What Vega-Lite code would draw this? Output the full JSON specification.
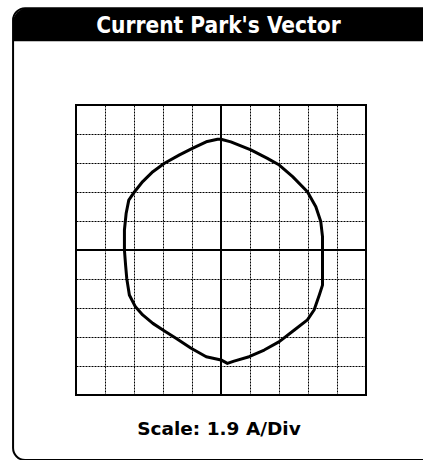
{
  "$schema": "https://vega.github.io/schema/vega-lite/v6.json",
  "width": 290,
  "height": 290,
  "autosize": {"type": "none"},
  "padding": {"left": 76, "top": 105, "right": 57, "bottom": 65},
  "background": "white",
  "config": {
    "view": {"stroke": "black", "strokeWidth": 2},
    "axis": {
      "grid": true, "gridColor": "black", "gridDash": [2, 1], "gridWidth": 1, "gridOpacity": 1,
      "domain": false, "ticks": false, "labels": false, "title": null
    }
  },
  "layer": [
    {
      "data": {"values": [{"x": -7.17, "x2": 7.6, "y": 8.34, "y2": -7.24}]},
      "mark": {"type": "rect", "fill": null, "stroke": "black", "strokeWidth": 2, "cornerRadius": 12, "clip": false},
      "encoding": {
        "x": {"field": "x", "type": "quantitative", "title": null, "scale": {"domain": [-5, 5], "nice": false, "zero": false}, "axis": {"values": [-4, -3, -2, -1, 1, 2, 3, 4], "grid": true, "gridDash": [2, 1], "gridColor": "black", "domain": false, "ticks": false, "labels": false, "title": null}},
        "x2": {"field": "x2"},
        "y": {"field": "y", "type": "quantitative", "title": null, "scale": {"domain": [-5, 5], "nice": false, "zero": false}, "axis": {"values": [-4, -3, -2, -1, 1, 2, 3, 4], "grid": true, "gridDash": [2, 1], "gridColor": "black", "domain": false, "ticks": false, "labels": false, "title": null}},
        "y2": {"field": "y2"}
      }
    },
    {
      "data": {"values": [{"x": -7.17, "x2": 7.6, "y": 8.34, "y2": 7.2}]},
      "mark": {"type": "rect", "fill": "black", "cornerRadiusTopLeft": 14, "cornerRadiusTopRight": 14, "clip": false},
      "encoding": {
        "x": {"field": "x", "type": "quantitative", "title": null},
        "x2": {"field": "x2"},
        "y": {"field": "y", "type": "quantitative", "title": null},
        "y2": {"field": "y2"}
      }
    },
    {
      "data": {"values": [
        {"x": 0, "x2": 0, "y": -5, "y2": 5},
        {"x": -5, "x2": 5, "y": 0, "y2": 0}
      ]},
      "mark": {"type": "rule", "color": "black", "strokeWidth": 2},
      "encoding": {
        "x": {"field": "x", "type": "quantitative", "title": null},
        "x2": {"field": "x2"},
        "y": {"field": "y", "type": "quantitative", "title": null},
        "y2": {"field": "y2"}
      }
    },
    {
      "data": {"values": [
        {"i": 1, "x": 0, "y": 3.82},
        {"i": 2, "x": 0.34, "y": 3.73},
        {"i": 3, "x": 1.03, "y": 3.45},
        {"i": 4, "x": 1.6, "y": 3.16},
        {"i": 5, "x": 2.01, "y": 2.93},
        {"i": 6, "x": 2.47, "y": 2.53},
        {"i": 7, "x": 2.98, "y": 2.01},
        {"i": 8, "x": 3.27, "y": 1.49},
        {"i": 9, "x": 3.44, "y": 0.98},
        {"i": 10, "x": 3.5, "y": 0.46},
        {"i": 11, "x": 3.5, "y": 0},
        {"i": 12, "x": 3.5, "y": -0.52},
        {"i": 13, "x": 3.5, "y": -1.21},
        {"i": 14, "x": 3.39, "y": -1.55},
        {"i": 15, "x": 3.21, "y": -2.07},
        {"i": 16, "x": 2.98, "y": -2.41},
        {"i": 17, "x": 2.53, "y": -2.76},
        {"i": 18, "x": 2.01, "y": -3.16},
        {"i": 19, "x": 1.49, "y": -3.45},
        {"i": 20, "x": 0.97, "y": -3.68},
        {"i": 21, "x": 0.45, "y": -3.83},
        {"i": 22, "x": 0.22, "y": -3.91},
        {"i": 23, "x": 0, "y": -3.79},
        {"i": 24, "x": -0.51, "y": -3.68},
        {"i": 25, "x": -1.03, "y": -3.39},
        {"i": 26, "x": -1.54, "y": -3.05},
        {"i": 27, "x": -1.95, "y": -2.79},
        {"i": 28, "x": -2.35, "y": -2.53},
        {"i": 29, "x": -2.7, "y": -2.24},
        {"i": 30, "x": -2.95, "y": -1.96},
        {"i": 31, "x": -3.16, "y": -1.55},
        {"i": 32, "x": -3.25, "y": -0.98},
        {"i": 33, "x": -3.29, "y": -0.52},
        {"i": 34, "x": -3.33, "y": 0},
        {"i": 35, "x": -3.33, "y": 0.69},
        {"i": 36, "x": -3.27, "y": 1.27},
        {"i": 37, "x": -3.18, "y": 1.72},
        {"i": 38, "x": -2.98, "y": 2.01},
        {"i": 39, "x": -2.7, "y": 2.36},
        {"i": 40, "x": -2.35, "y": 2.7},
        {"i": 41, "x": -1.95, "y": 2.99},
        {"i": 42, "x": -1.43, "y": 3.28},
        {"i": 43, "x": -0.97, "y": 3.51},
        {"i": 44, "x": -0.51, "y": 3.73},
        {"i": 45, "x": -0.12, "y": 3.82},
        {"i": 46, "x": 0, "y": 3.82}
      ]},
      "mark": {"type": "line", "color": "black", "strokeWidth": 3, "strokeJoin": "round"},
      "encoding": {
        "x": {"field": "x", "type": "quantitative", "title": null},
        "y": {"field": "y", "type": "quantitative", "title": null},
        "order": {"field": "i", "type": "quantitative"}
      }
    },
    {
      "data": {"values": [{"x": -0.09, "y": 7.48, "label": "Current Park's Vector"}]},
      "mark": {"type": "text", "color": "white", "font": "DejaVu Sans Condensed", "fontWeight": "bold", "fontSize": 22.5, "align": "center", "baseline": "alphabetic", "clip": false},
      "encoding": {
        "x": {"field": "x", "type": "quantitative", "title": null},
        "y": {"field": "y", "type": "quantitative", "title": null},
        "text": {"field": "label"}
      }
    },
    {
      "data": {"values": [{"x": -0.07, "y": -6.38, "label": "Scale: 1.9 A/Div"}]},
      "mark": {"type": "text", "color": "black", "font": "DejaVu Sans", "fontWeight": "bold", "fontSize": 18.5, "align": "center", "baseline": "alphabetic", "clip": false},
      "encoding": {
        "x": {"field": "x", "type": "quantitative", "title": null},
        "y": {"field": "y", "type": "quantitative", "title": null},
        "text": {"field": "label"}
      }
    }
  ]
}
